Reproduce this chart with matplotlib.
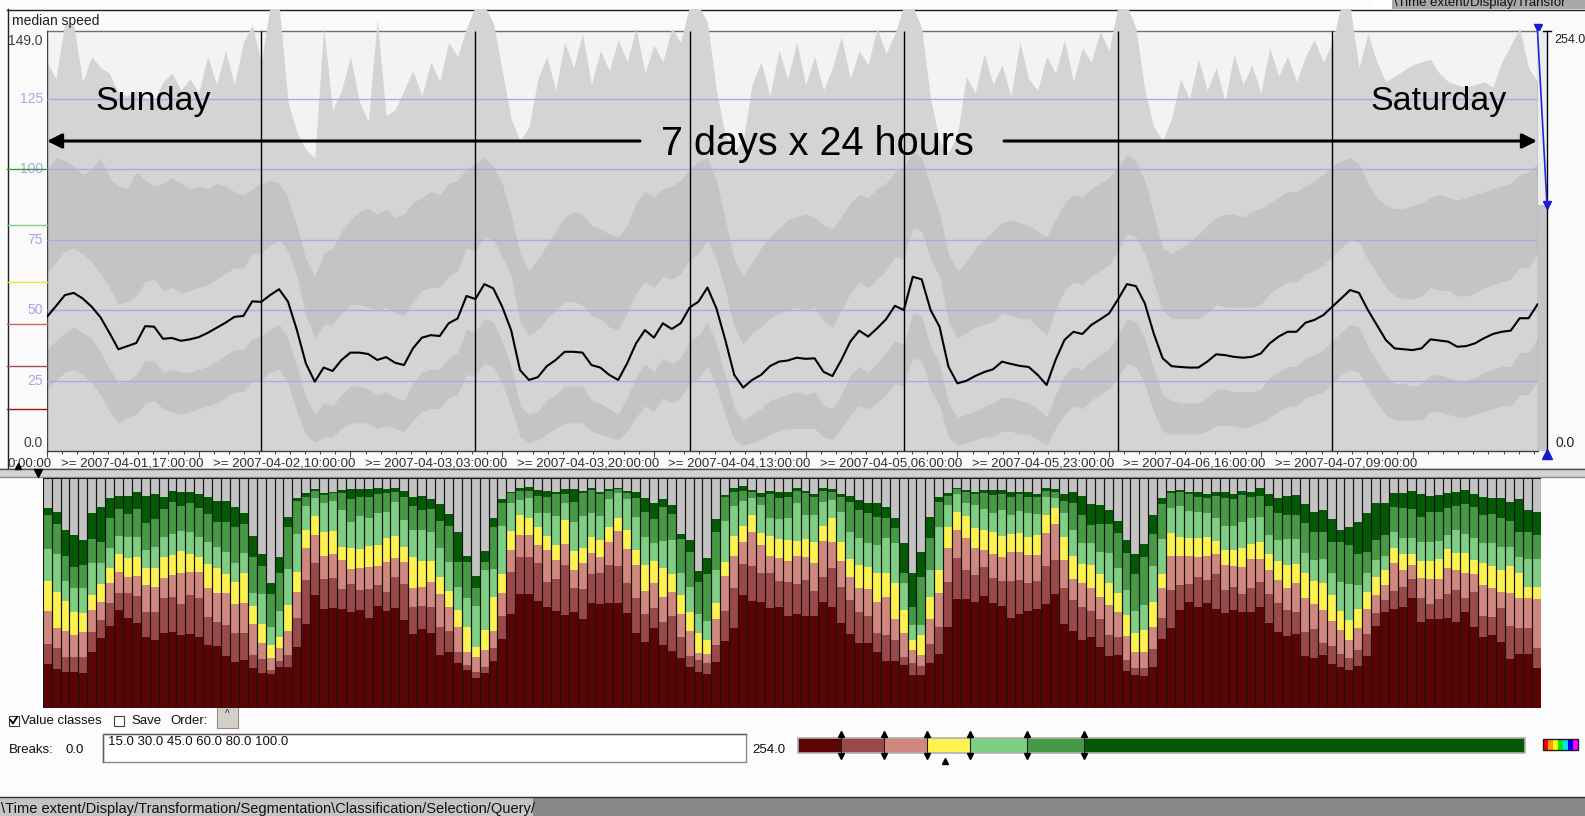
import numpy as np
import matplotlib
matplotlib.use("Agg")
import matplotlib.pyplot as plt
from matplotlib.patches import Rectangle, ConnectionPatch
from matplotlib.transforms import ScaledTranslation

plt.rcParams['font.family'] = ['Liberation Sans', 'DejaVu Sans']

# ---------------- data ----------------
hours = list(range(168))
day_starts = [24, 48, 72, 96, 120, 144]
tick_hours = [0, 17, 34, 51, 68, 85, 102, 119, 136, 153]
tick_labels = ["0:00:00", ">= 2007-04-01,17:00:00", ">= 2007-04-02,10:00:00",
               ">= 2007-04-03,03:00:00", ">= 2007-04-03,20:00:00", ">= 2007-04-04,13:00:00",
               ">= 2007-04-05,06:00:00", ">= 2007-04-05,23:00:00", ">= 2007-04-06,16:00:00",
               ">= 2007-04-07,09:00:00"]
grid_values = [25, 50, 75, 100, 125]
y_shown_max = 149.0
y_full_max = 254.0
class_breaks = [15.0, 30.0, 45.0, 60.0, 80.0, 100.0]
class_colors = ['#5c0404', '#9b4848', '#d0877e', '#fdf24f', '#7ece84', '#469a46', '#045a04']
break_line_colors = ['#8a1c1c', '#a05252', '#c8685e', '#eee43a', '#7ece84', '#3a9a3a']
selected_class_value = 51.5

median_speed = [
    47.6, 51.4, 55.3, 56.1, 54.1, 51.2, 47.4, 41.9, 36.1, 37.2, 38.3, 44.3, 44.1, 39.8, 40.1, 39.1,
    39.6, 40.4, 41.9, 43.7, 45.5, 47.6, 47.9, 53.1, 52.9, 55.3, 57.4, 53.0, 42.9, 31.1, 24.6, 29.6,
    28.4, 32.3, 34.9, 34.9, 34.4, 32.3, 33.3, 31.3, 30.5, 36.4, 40.2, 41.1, 40.8, 45.3, 47.0, 55.0,
    53.9, 59.2, 57.7, 51.2, 42.9, 28.7, 25.2, 26.2, 30.1, 32.3, 35.2, 35.2, 34.9, 30.5, 29.6, 27.0,
    25.2, 31.1, 38.2, 42.9, 40.2, 45.3, 43.3, 45.3, 50.9, 53.0, 58.0, 50.6, 39.4, 27.0, 22.5, 25.2,
    27.0, 30.1, 31.7, 32.1, 33.1, 32.7, 32.9, 28.1, 26.6, 32.3, 38.8, 42.7, 40.6, 43.5, 46.7, 51.5,
    50.0, 61.8, 60.9, 50.0, 44.1, 29.9, 24.0, 24.9, 26.6, 28.0, 29.0, 31.7, 30.9, 30.2, 29.8, 27.0,
    23.4, 32.3, 39.4, 42.3, 41.5, 44.7, 46.7, 48.8, 53.8, 59.2, 58.5, 52.4, 41.7, 32.9, 30.1, 29.8,
    29.6, 29.6, 31.7, 34.3, 34.0, 33.4, 33.1, 33.4, 34.6, 38.2, 40.6, 42.3, 42.3, 45.5, 46.5, 48.2,
    51.2, 54.1, 57.1, 56.1, 50.0, 44.7, 39.4, 36.4, 36.1, 35.8, 36.4, 39.6, 39.2, 38.8, 37.0, 37.2,
    38.2, 40.0, 41.5, 42.3, 42.7, 47.1, 47.1, 52.0]

# distribution bands of speed per hour (lower to upper)
band_q10 = [
    22, 25, 28, 29, 27, 24, 20, 14, 10, 12, 13, 17, 18, 15, 14, 13, 14, 15, 16, 17, 19, 21, 21, 25,
    25, 28, 29, 24, 14, 6, 3, 5, 5, 8, 10, 10, 10, 8, 9, 8, 7, 11, 14, 15, 15, 19, 20, 27,
    27, 31, 30, 24, 15, 5, 3, 4, 6, 8, 10, 10, 10, 7, 6, 5, 4, 7, 12, 16, 14, 19, 17, 19,
    24, 26, 30, 23, 13, 4, 2, 3, 4, 6, 7, 8, 8, 8, 8, 5, 4, 8, 13, 16, 15, 17, 20, 24,
    23, 33, 32, 22, 16, 5, 2, 3, 4, 5, 5, 7, 7, 6, 6, 4, 2, 8, 13, 16, 15, 18, 20, 22,
    26, 31, 30, 24, 14, 7, 6, 6, 6, 6, 7, 9, 9, 9, 8, 9, 10, 12, 14, 16, 16, 19, 20, 21,
    24, 27, 29, 28, 22, 17, 13, 11, 11, 11, 11, 14, 14, 13, 12, 12, 13, 14, 15, 16, 16, 20, 20, 25]
band_q25 = [
    36, 39, 42, 44, 42, 40, 35, 29, 24, 25, 27, 32, 32, 28, 29, 28, 28, 29, 30, 32, 34, 36, 36, 40,
    41, 43, 45, 40, 30, 19, 13, 17, 16, 20, 23, 23, 22, 20, 21, 19, 18, 24, 28, 29, 29, 33, 35, 43,
    42, 47, 46, 39, 30, 16, 13, 14, 18, 20, 23, 23, 23, 18, 17, 15, 13, 19, 26, 31, 28, 33, 31, 33,
    39, 41, 46, 38, 27, 15, 11, 13, 15, 18, 19, 20, 21, 20, 21, 16, 15, 20, 27, 30, 28, 31, 35, 39,
    38, 49, 48, 37, 31, 17, 12, 13, 14, 16, 17, 19, 19, 18, 17, 15, 12, 20, 27, 30, 29, 32, 34, 36,
    41, 47, 46, 40, 29, 20, 18, 17, 17, 17, 19, 22, 22, 21, 21, 21, 22, 26, 28, 30, 30, 33, 34, 36,
    39, 42, 45, 44, 37, 32, 27, 24, 24, 23, 24, 27, 27, 26, 25, 25, 26, 28, 29, 30, 30, 35, 35, 40]
band_q75 = [
    63, 67, 71, 72, 70, 67, 63, 58, 52, 53, 55, 60, 61, 57, 58, 56, 57, 58, 59, 61, 63, 65, 65, 70,
    70, 73, 75, 71, 62, 48, 40, 45, 45, 49, 52, 52, 51, 50, 51, 49, 48, 53, 57, 58, 58, 62, 64, 72,
    71, 76, 75, 69, 62, 46, 41, 43, 47, 50, 53, 53, 52, 48, 47, 44, 43, 49, 56, 60, 58, 62, 61, 63,
    68, 70, 75, 68, 57, 44, 38, 42, 44, 47, 49, 50, 51, 50, 51, 46, 44, 50, 56, 60, 58, 61, 64, 69,
    68, 79, 78, 68, 62, 46, 40, 42, 44, 45, 46, 49, 48, 47, 47, 44, 41, 50, 57, 60, 59, 62, 64, 66,
    71, 77, 76, 70, 60, 50, 47, 47, 47, 47, 49, 52, 51, 51, 51, 51, 52, 56, 58, 60, 60, 63, 64, 66,
    69, 72, 75, 74, 68, 63, 58, 55, 54, 54, 55, 58, 57, 57, 55, 55, 56, 58, 59, 60, 61, 65, 65, 70]
band_q90 = [
    100, 104, 103, 101, 98, 100, 104, 97, 94, 93, 99, 96, 94, 95, 97, 95, 93, 94, 93, 95, 94, 92, 91, 93,
    95, 96, 95, 90, 80, 68, 62, 70, 72, 78, 82, 85, 86, 84, 86, 83, 84, 88, 90, 92, 91, 95, 96, 100,
    102, 104, 101, 95, 84, 70, 64, 68, 73, 78, 83, 85, 84, 80, 79, 77, 76, 80, 88, 92, 90, 93, 94, 96,
    100, 103, 104, 96, 82, 68, 62, 67, 72, 76, 79, 82, 83, 84, 83, 80, 79, 83, 88, 91, 90, 93, 95, 99,
    101, 106, 104, 94, 84, 70, 64, 67, 72, 75, 78, 81, 82, 81, 80, 78, 76, 82, 88, 91, 90, 93, 95, 97,
    101, 105, 103, 96, 84, 72, 70, 72, 74, 77, 80, 83, 84, 84, 83, 85, 86, 88, 90, 92, 92, 94, 96, 98,
    101, 103, 104, 102, 95, 90, 87, 86, 86, 87, 88, 90, 91, 90, 89, 90, 91, 92, 93, 94, 95, 98, 99, 102]
band_max = [
    138, 132, 152, 151, 131, 140, 136, 134, 127, 126, 128, 125, 124, 131, 134, 128, 132, 127, 140, 130, 142, 130, 145, 151,
    138, 158, 158, 124, 113, 107, 104, 150, 121, 128, 140, 124, 117, 153, 119, 121, 128, 135, 126, 138, 131, 145, 140, 150,
    158, 158, 152, 135, 118, 110, 115, 132, 140, 128, 145, 136, 148, 130, 142, 135, 146, 138, 150, 134, 144, 138, 150, 145,
    158, 158, 152, 128, 112, 106, 110, 130, 138, 126, 142, 132, 145, 130, 140, 128, 136, 147, 132, 142, 137, 150, 141, 148,
    158, 158, 150, 125, 110, 106, 112, 133, 127, 141, 130, 137, 126, 145, 132, 128, 140, 134, 146, 131, 143, 138, 149, 142,
    158, 158, 150, 128, 115, 110, 118, 132, 125, 139, 128, 136, 124, 141, 130, 137, 127, 143, 133, 140, 131, 140, 146, 138,
    145, 158, 158, 136, 148, 138, 131, 133, 135, 137, 138, 139, 134, 131, 130, 129, 130, 131, 129, 138, 144, 150, 136, 131]

# cumulative share (%) at the top of each value class, per hour
class_tops = [
    [19.0, 27.8, 42.2, 55.2, 69.1, 83.9, 86.8], [17.0, 25.9, 34.9, 50.6, 66.8, 79.9, 85.1],
    [15.5, 22.3, 33.6, 46.5, 55.2, 66.2, 77.4], [15.5, 22.3, 31.7, 41.9, 52.3, 61.4, 75.2],
    [15.1, 22.3, 33.2, 41.4, 52.3, 62.2, 72.9], [24.5, 33.2, 42.6, 49.1, 62.9, 73.5, 84.6],
    [30.6, 38.3, 46.2, 53.9, 62.9, 72.0, 87.2], [35.8, 45.8, 54.3, 60.7, 69.7, 82.5, 91.4],
    [42.6, 49.9, 59.3, 67.0, 74.9, 86.5, 92.2], [39.0, 49.9, 57.1, 65.1, 74.2, 84.3, 92.2],
    [37.1, 48.7, 57.5, 65.8, 74.2, 86.5, 94.1], [30.9, 41.9, 53.5, 60.7, 68.7, 80.3, 92.2],
    [29.6, 41.9, 52.5, 60.7, 70.1, 82.0, 92.9], [32.8, 47.7, 56.4, 65.8, 74.5, 86.5, 91.6],
    [33.2, 48.1, 57.8, 66.5, 75.7, 89.7, 94.5], [31.7, 45.2, 58.6, 68.4, 77.1, 88.0, 94.1],
    [32.2, 49.1, 59.3, 67.0, 76.4, 89.3, 94.1], [31.0, 47.7, 59.3, 65.8, 74.2, 86.8, 93.0],
    [27.4, 39.7, 52.0, 62.6, 72.0, 84.2, 91.9], [27.1, 37.5, 50.1, 60.7, 69.9, 81.0, 90.1],
    [22.6, 36.1, 49.9, 58.1, 68.0, 81.0, 90.1], [19.9, 32.5, 45.2, 54.9, 62.9, 78.6, 87.5],
    [20.9, 32.5, 45.5, 58.6, 67.2, 79.9, 84.6], [17.2, 23.0, 36.4, 44.5, 49.9, 65.8, 74.9],
    [15.1, 21.3, 28.1, 36.4, 49.4, 61.7, 66.8], [14.6, 16.5, 21.9, 27.4, 35.4, 49.6, 54.5],
    [18.0, 20.4, 25.9, 31.0, 42.2, 58.6, 65.8], [17.7, 23.0, 33.6, 44.8, 60.4, 78.6, 82.9],
    [26.7, 39.0, 50.6, 59.3, 75.7, 90.1, 91.4], [36.4, 55.7, 69.4, 77.4, 88.0, 91.8, 93.6],
    [49.1, 62.9, 75.2, 83.5, 91.4, 94.3, 95.2], [43.0, 56.1, 66.2, 76.4, 89.0, 92.6, 93.6],
    [43.6, 56.7, 67.0, 77.0, 90.1, 93.3, 94.1], [43.0, 51.6, 64.3, 70.1, 86.1, 93.6, 94.8],
    [41.9, 53.9, 60.3, 69.4, 81.0, 90.7, 95.1], [42.6, 51.3, 60.7, 69.0, 83.6, 91.9, 95.1],
    [39.3, 51.7, 61.4, 70.6, 82.5, 91.9, 95.1], [44.5, 53.5, 61.7, 70.9, 84.6, 92.9, 95.5],
    [42.3, 50.6, 63.6, 74.1, 85.4, 93.6, 95.2], [43.6, 56.8, 65.1, 74.9, 89.7, 94.1, 95.5],
    [38.3, 53.8, 63.3, 70.1, 81.7, 91.9, 94.3], [32.2, 44.1, 52.0, 65.8, 77.4, 87.8, 91.6],
    [34.2, 44.5, 52.5, 63.9, 77.4, 86.1, 92.3], [32.5, 44.1, 54.6, 63.9, 76.7, 86.5, 90.7],
    [23.0, 35.4, 49.4, 57.1, 69.4, 81.3, 88.6], [24.5, 33.5, 44.1, 50.9, 63.3, 79.3, 84.2],
    [19.7, 24.5, 35.4, 42.6, 52.8, 63.6, 76.4], [16.5, 18.7, 24.5, 35.4, 47.7, 63.3, 66.2],
    [13.2, 15.5, 22.3, 26.4, 44.5, 52.3, 57.5], [15.1, 18.0, 25.2, 33.9, 60.0, 63.6, 68.4],
    [20.4, 25.9, 33.6, 48.4, 60.3, 78.8, 82.5], [30.0, 40.0, 49.9, 58.1, 79.1, 89.3, 90.7],
    [40.9, 59.0, 68.7, 77.0, 89.0, 93.3, 94.1], [49.4, 65.8, 75.2, 83.9, 90.4, 94.3, 95.8],
    [49.4, 65.8, 75.2, 82.5, 91.2, 94.3, 95.9], [46.7, 62.9, 70.9, 78.8, 84.6, 92.3, 94.8],
    [44.1, 54.9, 68.7, 74.8, 84.6, 91.9, 94.3], [42.2, 56.1, 64.3, 70.9, 83.5, 92.9, 93.8],
    [40.4, 62.2, 71.2, 81.7, 89.0, 93.0, 95.1], [41.9, 52.3, 60.0, 68.4, 81.0, 89.7, 95.1],
    [38.7, 51.7, 62.9, 69.7, 83.5, 93.3, 94.5], [45.8, 58.3, 67.5, 74.5, 84.6, 94.8, 95.5],
    [45.2, 58.6, 65.8, 73.0, 83.5, 92.9, 94.1], [45.8, 62.2, 72.0, 78.8, 90.7, 94.3, 95.1],
    [45.8, 61.7, 77.0, 82.5, 93.3, 95.1, 95.8], [41.2, 54.5, 69.1, 77.4, 90.7, 93.3, 94.3],
    [32.5, 47.7, 62.2, 68.7, 83.2, 91.2, 94.1], [28.6, 40.9, 50.9, 62.2, 74.5, 85.4, 91.2],
    [34.6, 43.3, 54.5, 63.9, 71.6, 82.0, 89.3], [27.4, 37.2, 48.4, 60.7, 72.6, 87.2, 90.7],
    [24.9, 40.1, 50.6, 58.1, 73.0, 84.3, 88.3], [21.9, 31.0, 40.9, 49.1, 58.6, 73.3, 75.5],
    [18.0, 22.6, 33.6, 41.9, 52.8, 67.7, 73.0], [15.5, 20.9, 24.1, 32.8, 40.9, 54.9, 59.7],
    [14.6, 19.4, 23.3, 29.6, 38.0, 58.1, 65.1], [20.1, 27.4, 38.6, 45.8, 60.0, 76.4, 82.0],
    [29.3, 42.3, 57.5, 63.6, 81.4, 91.6, 92.6], [34.9, 52.0, 66.0, 75.0, 88.0, 94.0, 95.5],
    [49.1, 62.5, 72.0, 79.3, 90.1, 94.3, 96.5], [46.7, 61.7, 76.7, 83.9, 91.2, 93.8, 94.8],
    [46.2, 58.6, 70.9, 75.9, 88.3, 91.9, 93.3], [43.6, 58.6, 66.2, 74.8, 82.5, 92.9, 94.3],
    [44.1, 55.2, 65.1, 73.3, 82.0, 91.4, 94.1], [40.0, 54.9, 63.9, 73.0, 82.5, 91.9, 93.8],
    [40.9, 53.9, 66.1, 72.6, 89.0, 94.3, 95.5], [40.0, 55.7, 65.8, 73.5, 83.9, 93.3, 94.3],
    [40.0, 51.0, 62.9, 72.0, 83.9, 91.9, 92.9], [46.2, 56.8, 72.6, 79.3, 89.7, 94.3, 95.5],
    [44.1, 60.7, 72.0, 82.5, 90.4, 94.1, 95.2], [36.8, 52.8, 63.9, 72.0, 85.4, 91.9, 92.9],
    [32.2, 47.0, 57.1, 64.8, 76.7, 89.7, 92.2], [28.1, 41.9, 52.0, 62.2, 73.8, 86.1, 90.4],
    [28.1, 40.0, 51.6, 61.2, 71.6, 84.6, 89.0], [24.5, 32.5, 46.2, 58.6, 70.9, 83.2, 89.0],
    [20.4, 31.7, 48.4, 58.6, 73.8, 82.5, 87.5], [20.4, 29.6, 38.6, 54.5, 71.6, 78.4, 82.5],
    [18.7, 22.3, 32.5, 42.6, 54.5, 58.6, 71.6], [14.3, 19.4, 25.2, 29.6, 36.1, 44.1, 58.6],
    [14.3, 18.3, 23.0, 31.7, 36.1, 57.1, 68.0], [19.4, 27.7, 38.6, 48.4, 60.0, 73.8, 83.2],
    [23.5, 35.1, 49.9, 60.0, 78.8, 89.7, 91.9], [35.4, 54.9, 69.4, 78.8, 88.3, 92.3, 93.3],
    [47.2, 65.1, 77.4, 85.4, 93.0, 95.1, 95.5], [47.2, 60.0, 74.1, 83.6, 89.0, 93.8, 94.8],
    [46.2, 57.8, 69.4, 78.4, 88.3, 93.0, 94.1], [48.8, 61.2, 68.7, 77.4, 86.5, 93.6, 94.8],
    [45.8, 56.4, 67.0, 76.4, 84.9, 92.6, 94.8], [44.3, 55.2, 65.5, 74.9, 86.1, 92.9, 94.8],
    [39.0, 55.4, 67.7, 75.5, 83.9, 91.9, 93.8], [40.7, 55.7, 68.0, 75.9, 85.7, 92.9, 94.1],
    [42.3, 54.5, 66.5, 74.5, 84.6, 91.9, 94.1], [43.0, 55.2, 66.5, 75.2, 84.2, 91.9, 92.9],
    [45.2, 61.7, 76.2, 83.9, 91.9, 94.3, 95.5], [49.4, 64.3, 79.9, 87.1, 91.2, 93.8, 95.1],
    [36.4, 52.0, 64.3, 74.5, 84.6, 90.0, 92.9], [33.5, 47.0, 56.1, 66.2, 77.4, 89.0, 93.8],
    [29.6, 44.1, 54.5, 62.6, 71.6, 83.9, 92.3], [31.0, 42.2, 52.0, 62.2, 71.6, 79.6, 88.7],
    [26.7, 38.6, 48.4, 58.1, 68.0, 80.0, 88.3], [22.8, 31.7, 44.8, 54.5, 67.5, 80.0, 86.1],
    [23.0, 31.0, 41.6, 49.9, 60.7, 76.2, 81.4], [16.1, 20.9, 31.3, 40.4, 51.3, 67.2, 73.0],
    [14.3, 17.2, 24.5, 32.8, 42.3, 58.1, 67.0], [14.1, 17.5, 24.5, 33.9, 44.8, 65.8, 71.2],
    [17.7, 25.5, 35.4, 46.2, 61.7, 75.7, 83.9], [30.0, 39.0, 52.3, 58.1, 73.3, 88.7, 91.2],
    [34.9, 51.3, 66.1, 76.2, 86.8, 93.6, 94.5], [42.6, 53.5, 66.2, 74.5, 87.8, 93.8, 94.8],
    [46.2, 53.9, 66.1, 73.8, 85.7, 92.9, 94.1], [44.1, 57.1, 65.8, 73.8, 85.4, 91.9, 93.8],
    [45.5, 55.7, 66.1, 74.5, 84.6, 91.4, 92.9], [43.0, 58.1, 67.0, 72.8, 82.5, 92.3, 94.1],
    [41.2, 51.3, 62.2, 68.7, 79.3, 91.2, 93.8], [42.6, 52.8, 61.9, 68.7, 79.3, 90.9, 93.0],
    [41.9, 49.4, 61.2, 69.7, 81.0, 92.6, 94.5], [41.9, 52.3, 64.6, 71.2, 82.5, 91.9, 94.1],
    [43.8, 54.6, 64.8, 72.0, 83.2, 92.2, 95.5], [36.8, 49.4, 60.0, 67.0, 75.2, 88.0, 93.0],
    [33.2, 45.5, 55.7, 63.9, 73.0, 84.6, 91.4], [31.3, 42.6, 52.3, 62.2, 73.3, 83.9, 92.2],
    [32.2, 41.9, 54.2, 62.6, 73.3, 83.9, 92.6], [22.8, 33.2, 47.7, 58.6, 67.5, 80.3, 88.7],
    [21.9, 34.3, 45.2, 55.2, 64.3, 76.4, 85.4], [23.0, 28.1, 42.6, 54.2, 64.8, 76.7, 86.1],
    [19.1, 27.1, 38.0, 49.1, 58.8, 72.3, 82.0], [18.0, 23.3, 33.9, 42.2, 54.9, 72.0, 77.4],
    [16.5, 21.6, 29.6, 38.3, 53.9, 70.9, 78.8], [18.4, 25.2, 34.6, 43.0, 53.5, 67.0, 81.0],
    [22.6, 32.2, 43.0, 50.6, 58.6, 67.7, 84.6], [35.8, 41.2, 49.1, 57.1, 64.3, 73.0, 89.0],
    [41.9, 47.0, 53.5, 60.0, 66.1, 75.2, 89.3], [43.0, 50.9, 62.9, 69.4, 76.7, 87.2, 93.3],
    [44.1, 52.8, 60.0, 67.0, 73.8, 86.8, 93.6], [47.7, 56.1, 62.2, 67.0, 74.1, 86.5, 94.3],
    [37.5, 47.7, 56.4, 63.9, 72.3, 83.2, 92.9], [38.7, 45.1, 56.1, 63.9, 72.0, 85.4, 92.2],
    [38.7, 47.4, 56.1, 64.8, 72.6, 85.1, 92.6], [39.0, 49.4, 60.7, 69.0, 75.2, 86.8, 93.6],
    [37.5, 51.3, 60.0, 67.5, 77.4, 88.0, 94.1], [41.9, 47.7, 58.8, 67.2, 75.5, 88.6, 94.8],
    [35.4, 50.6, 58.3, 64.3, 73.8, 87.5, 92.9], [31.0, 40.0, 53.5, 62.9, 71.6, 83.9, 91.9],
    [31.7, 39.7, 52.0, 61.7, 71.6, 84.2, 91.2], [28.6, 43.3, 50.6, 60.0, 70.1, 82.5, 91.4],
    [21.3, 35.8, 50.1, 61.9, 69.9, 81.3, 89.7], [23.5, 34.9, 47.7, 58.6, 65.8, 76.7, 90.7],
    [23.5, 34.9, 47.7, 52.8, 64.8, 76.7, 86.1], [17.2, 26.2, 47.4, 52.5, 64.8, 75.2, 85.1]]

# ---------------- figure ----------------
W, H = 1585, 816
fig = plt.figure(figsize=(W / 100, H / 100), dpi=100)
fig.patch.set_facecolor('#fcfcfc')

def fr(x0, y0, x1, y1):
    return [x0 / W, 1 - y1 / H, (x1 - x0) / W, (y1 - y0) / H]

bg = fig.add_axes([0, 0, 1, 1], zorder=0)
bg.set_xlim(0, W); bg.set_ylim(H, 0); bg.axis('off')
fg = fig.add_axes([0, 0, 1, 1], zorder=30)
fg.set_xlim(0, W); fg.set_ylim(H, 0); fg.axis('off'); fg.patch.set_alpha(0)

# top panel background and borders
bg.add_patch(Rectangle((7, 9), W - 7, 459, fc='#fafafa', ec='none'))
bg.plot([7, W], [9.5, 9.5], color='#202020', lw=1)
bg.plot([7.5, 7.5], [9, 468], color='#202020', lw=1)
bg.add_patch(Rectangle((1373, 0), 19, 9, fc='white', ec='none'))
bg.add_patch(Rectangle((1392, 0), W - 1392, 9, fc='#a8a8a8', ec='none'))
fg.text(1394, 3, "\\Time extent/Display/Transfor", fontsize=9.5, color='#101010', va='center', ha='left')
fg.text(12, 21, "median speed", fontsize=10, color='#202020', va='center', ha='left')

# main time graph
ytop = y_shown_max + (31 - 9) / (420 / y_shown_max)
ax = fig.add_axes(fr(47, 9, 1537.5, 451), zorder=5)
ax.set_xlim(0, 167); ax.set_ylim(0, ytop)
ax.patch.set_alpha(0)
for s in ax.spines.values():
    s.set_visible(False)
ax.add_patch(Rectangle((0, 0), 167, y_shown_max, fc='#f3f3f3', ec='none', zorder=0))
ax.plot([0, 167], [y_shown_max, y_shown_max], color='#707070', lw=1, zorder=0.5)
ax.fill_between(hours, 0, band_max, color='#d4d4d4', lw=0, zorder=1)
ax.fill_between(hours, band_q10, band_q25, color='#c4c4c4', lw=0, zorder=2)
ax.fill_between(hours, band_q75, band_q90, color='#c4c4c4', lw=0, zorder=2)
ax.plot([0, 0], [0, y_shown_max], color='#404040', lw=1, zorder=3)
ax.plot([167, 167], [0, y_shown_max], color='#909090', lw=1, zorder=3)
ax.plot([0, 167], [0, 0], color='#404040', lw=1, zorder=3, clip_on=False)
ax.hlines(grid_values, 0, 167, color='#a9a9ee', lw=1, zorder=3)
ax.vlines(day_starts, 0, y_shown_max, color='black', lw=1, zorder=4)
ax.plot(hours, median_speed, color='black', lw=1.5, zorder=5, solid_joinstyle='round')

ax.set_yticks([])
ax.set_xticks(tick_hours)
ax.set_xticks([t * 1.7 for t in range(99)], minor=True)
ax.set_xticklabels(tick_labels, fontsize=9.5, color='#303030')
ax.tick_params(axis='x', which='major', length=4, width=0.8, color='#505050', pad=1)
ax.tick_params(axis='x', which='minor', length=2.2, width=0.8, color='#505050')
off = ScaledTranslation(5 / 100, 0, fig.dpi_scale_trans)
for lab in ax.get_xticklabels():
    lab.set_ha('right')
    lab.set_transform(lab.get_transform() + off)

yt = ax.get_yaxis_transform()
ax.annotate("149.0", xy=(0, y_shown_max), xycoords=yt, xytext=(-3, -2), textcoords='offset points',
            ha='right', va='top', fontsize=10, color='#404040')
ax.annotate("0.0", xy=(0, 0), xycoords=yt, xytext=(-3, 1), textcoords='offset points',
            ha='right', va='bottom', fontsize=10, color='#404040')
for g in grid_values:
    ax.annotate(str(g), xy=(0, g), xycoords=yt, xytext=(-3, 0), textcoords='offset points',
                ha='right', va='center', fontsize=10, color='#a6a6e6')
for b, c in zip(class_breaks, break_line_colors):
    ax.plot([-40 / 1490.5, 0], [b, b], transform=yt, color=c, lw=1, clip_on=False, zorder=6)

# annotations
fg.text(95, 110, "Sunday", fontsize=24.5, ha='left', va='baseline', color='black')
fg.text(1370, 110, "Saturday", fontsize=24.5, ha='left', va='baseline', color='black')
fg.text(817, 155, "7 days x 24 hours", fontsize=28.5, ha='center', va='baseline', color='black')
fg.annotate('', xy=(47, 141), xytext=(640, 141),
            arrowprops=dict(arrowstyle='-|>', color='black', lw=2.2, mutation_scale=22, shrinkA=0, shrinkB=0))
fg.annotate('', xy=(1537, 141), xytext=(1004, 141),
            arrowprops=dict(arrowstyle='-|>', color='black', lw=2.2, mutation_scale=22, shrinkA=0, shrinkB=0))

# right scale widget
sx = fig.add_axes(fr(1537.5, 31, 1547, 451), zorder=6)
sx.set_xlim(0, 1); sx.set_ylim(0, y_full_max); sx.axis('off')
sx.add_patch(Rectangle((0, 0), 1, y_full_max, fc='#ececec', ec='none'))
sx.add_patch(Rectangle((0, 0), 1, y_shown_max, fc='#c4c4c4', ec='none'))
sx.plot([1, 1], [0, y_full_max], color='black', lw=1, clip_on=False)
sx.plot([0.55, 1.45], [y_full_max, y_full_max], color='black', lw=1, clip_on=False)
con = ConnectionPatch(xyA=(167, y_shown_max), coordsA=ax.transData, xyB=(1, y_shown_max),
                      coordsB=sx.transData, color='#2424d8', lw=1.2, zorder=7)
fig.add_artist(con)
ax.plot([167], [y_shown_max + 1.2], marker='v', color='#1a1ad0', ms=6, clip_on=False, zorder=8)
sx.plot([1], [y_shown_max], marker='v', color='#1a1ad0', ms=6, clip_on=False, zorder=8)
sx.plot([1], [-2], marker='^', color='#1a1ad0', ms=7, clip_on=False, zorder=8)
sx.annotate("254.0", xy=(1, y_full_max), xytext=(5, -2), textcoords='offset points',
            ha='left', va='top', fontsize=9, color='#202020', annotation_clip=False)
sx.annotate("0.0", xy=(1, 0), xytext=(6, 1), textcoords='offset points',
            ha='left', va='bottom', fontsize=10, color='#202020', annotation_clip=False)

# separator between panels
bg.add_patch(Rectangle((0, 468), W, 9.5, fc='#d2d2d2', ec='none'))
bg.plot([0, W], [468.5, 468.5], color='#505050', lw=1)
bg.plot([0, W], [477, 477], color='#8a8a8a', lw=1)
fg.plot([18], [466], marker='^', color='black', ms=5)
fg.plot([38], [472.5], marker='v', color='black', ms=6)

# stacked bars
bx = fig.add_axes(fr(42.7, 478, 1540.6, 708), zorder=5)
bx.set_xlim(-0.5, 167.5); bx.set_ylim(0, 100); bx.axis('off')
tops = np.array(class_tops)
prev = np.zeros(len(hours))
for k in range(7):
    bx.bar(hours, tops[:, k] - prev, bottom=prev, width=1.0, color=class_colors[k], lw=0)
    prev = tops[:, k]
bx.bar(hours, 100 - prev, bottom=prev, width=1.0, color='#c4c4c4', lw=0)
bx.bar(hours, [100] * len(hours), width=1.0, fill=False, edgecolor='#151515', lw=0.8)

# ---- bottom controls ----
ry = 721.5
bg.add_patch(Rectangle((8.5, ry - 6), 10, 10, fc='white', ec='#404040', lw=0.8))
bg.plot([10.5, 13, 17], [ry - 1.5, ry + 2, ry - 4.5], color='black', lw=1.3)
fg.text(21, ry, "Value classes", fontsize=9.5, va='center', ha='left', color='#101010')
bg.add_patch(Rectangle((113.5, ry - 6), 10, 10, fc='white', ec='#404040', lw=0.8))
fg.text(131, ry, "Save", fontsize=9.5, va='center', ha='left', color='#101010')
fg.text(170, ry, "Order:", fontsize=9.5, va='center', ha='left', color='#101010')
bg.add_patch(Rectangle((217, 707), 21, 21, fc='#d4d0c8', ec='#909090', lw=0.8))
fg.text(227.5, 714, "^", fontsize=7, va='center', ha='center', color='#202020')

fg.text(9, 750, "Breaks:", fontsize=9.5, va='center', ha='left', color='#101010')
fg.text(66, 750, "0.0", fontsize=9.5, va='center', ha='left', color='#101010')
bg.add_patch(Rectangle((102.5, 733.5), 643, 28, fc='white', ec='#8a8a8a', lw=1))
bg.plot([102.5, 102.5, 745.5], [761.5, 733.5, 733.5], color='#606060', lw=1)
fg.text(108, 742, " ".join(f"{b:.1f}" for b in class_breaks), fontsize=9.5, va='center', ha='left', color='#101010')
fg.text(752, 750, f"{y_full_max:.1f}", fontsize=9.5, va='center', ha='left', color='#101010')

cx = fig.add_axes(fr(798, 737.5, 1525.4, 752.5), zorder=5)
cx.set_xlim(0, y_full_max); cx.set_ylim(0, 1); cx.axis('off')
edges = [0.0] + class_breaks + [y_full_max]
for k in range(7):
    cx.add_patch(Rectangle((edges[k], 0), edges[k + 1] - edges[k], 1, fc=class_colors[k], ec='none'))
cx.add_patch(Rectangle((0, 0), y_full_max, 1, fill=False, ec='#b0b0b0', lw=1.2, clip_on=False))
for b in class_breaks:
    cx.plot([b, b], [0, 1], color='#202020', lw=0.8)
    cx.plot([b], [1.25], marker='^', color='black', ms=4, clip_on=False)
    cx.plot([b], [-0.25], marker='v', color='black', ms=4, clip_on=False)
cx.plot([selected_class_value], [-0.55], marker='^', color='black', ms=5, clip_on=False)

rainbow = ['#ff0000', '#ff9900', '#ffff00', '#00ee00', '#00e0ff', '#0000ff', '#ff00ff']
for i, c in enumerate(rainbow):
    bg.add_patch(Rectangle((1543 + i * 5, 738.5), 5, 11, fc=c, ec='none'))
bg.add_patch(Rectangle((1542.5, 738.5), 35, 11, fill=False, ec='#202020', lw=1))

# tabs strip
bg.add_patch(Rectangle((0, 797), W, 19, fc='#888888', ec='none'))
bg.add_patch(Rectangle((0, 797), 533, 19, fc='#c4c4c4', ec='none'))
bg.plot([0, W], [797, 797], color='#303030', lw=1)
fg.text(1, 809, "\\Time extent/Display/Transformation/Segmentation\\Classification/Selection/Query/",
        fontsize=10.5, va='center', ha='left', color='#101010')

fig.savefig("out.png", dpi=100, facecolor=fig.get_facecolor())
